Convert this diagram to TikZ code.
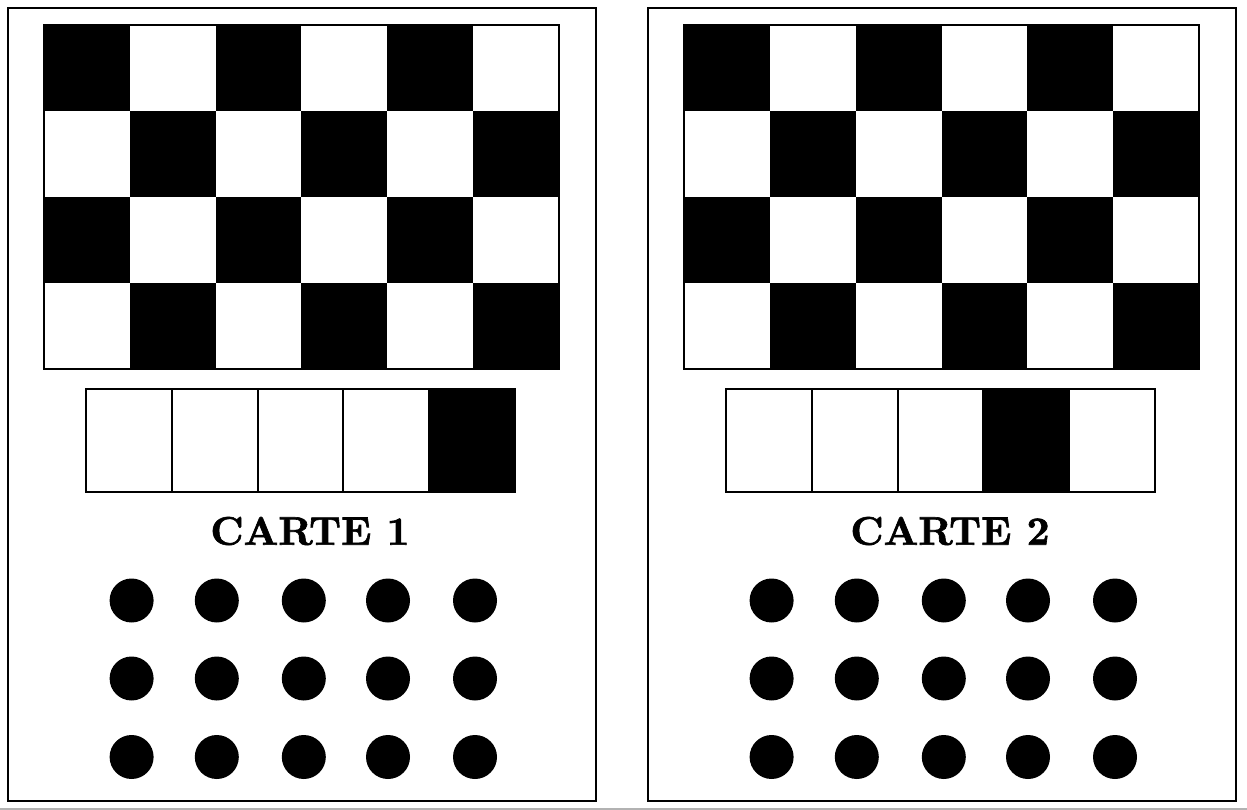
\documentclass[tikz,border=0pt]{standalone}
\usepackage{fontspec}
\newfontfamily\titlefont{lmroman10-bold.otf}[FakeBold=1.6]
\begin{document}
\begin{tikzpicture}[x=1pt,y=-1pt,
  cardframe/.style={draw=black,line width=2pt},
  gridframe/.style={draw=black,line width=2pt},
  cellbox/.style={draw=black,line width=2pt},
  dotnode/.style={circle,fill=black,draw=none,minimum size=44pt,inner sep=0pt},
  titlenode/.style={font=\titlefont\fontsize{40}{40}\selectfont,inner sep=0pt}]
\useasboundingbox (0,0) rectangle (1247,810);
\fill[white] (0,0) rectangle (1247,810);
\foreach \ox/\blk/\num in {0/5/1,640/4/2} {
  \begin{scope}[xshift=\ox]
    \draw[cardframe] (8,8) rectangle (596,801);
    % checkerboard
    \foreach \r in {0,...,3} {
      \foreach \c in {0,...,5} {
        \pgfmathtruncatemacro\myparity{mod(\r+\c,2)}
        \ifnum\myparity=0
          \fill[black] (44+\c*85.83,25+\r*86) rectangle ++(85.83,86);
        \fi
      }
    }
    \draw[gridframe] (44,25) rectangle (559,369);
    % strip
    \foreach \c in {1,...,5} {
      \ifnum\c=\blk
        \fill[black] (86+\c*85.8-85.8,389) rectangle ++(85.8,103);
      \fi
      \draw[cellbox] (86+\c*85.8-85.8,389) rectangle ++(85.8,103);
    }
    % title
    \node[titlenode] (title\num) at (310,531) {CARTE \num};
    % dots
    \foreach \dx [count=\i] in {131.6,216.8,303.8,388,475} {
      \foreach \dy [count=\j] in {600.5,678.5,757} {
        \node[dotnode] (dot-\num-\i-\j) at (\dx,\dy) {};
      }
    }
  \end{scope}
}
\draw[gray!60,line width=2pt] (0,808.5) -- (1247,808.5);
\end{tikzpicture}
\end{document}
